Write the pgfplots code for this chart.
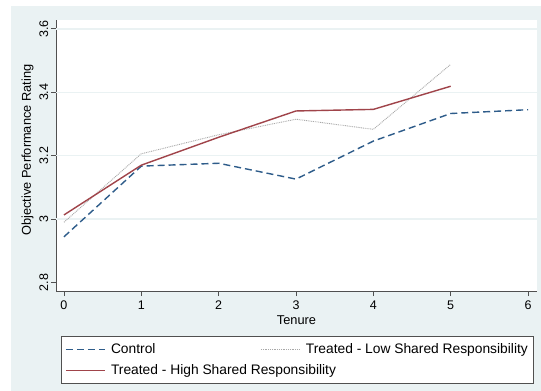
\documentclass[border=0pt]{standalone}
\usepackage{fontspec}
\setmainfont{Liberation Sans}
\usepackage{pgfplots}
\pgfplotsset{compat=1.18}

\definecolor{stbg}{HTML}{EAF2F3}
\definecolor{ctrlblue}{HTML}{2E5C8A}
\definecolor{highred}{HTML}{A0444A}
\definecolor{lowgray}{HTML}{A8A8A8}
\definecolor{axgray}{HTML}{505050}

\begin{document}
\begin{tikzpicture}[x=1pt,y=1pt]
  % page and graph region
  \fill[white] (0,0) rectangle (541,391);
  \fill[stbg] (11,0) rectangle (541,385);
  \begin{axis}[
    at={(56pt,100pt)}, anchor=south west,
    scale only axis, width=481pt, height=271pt,
    xmin=-0.103, xmax=6.116, ymin=2.773, ymax=3.628,
    axis background/.style={fill=white},
    axis x line*=bottom, axis y line*=left,
    axis line style={axgray, line width=0.8pt},
    xtick={0,1,2,3,4,5,6},
    ytick={2.8,3,3.2,3.4,3.6},
    tick align=outside, major tick length=5pt,
    tick style={axgray, line width=0.8pt},
    /pgf/number format/assume math mode=true,
    ticklabel style={font=\fontsize{12.5}{14}\selectfont},
    yticklabel style={rotate=90, anchor=south, inner sep=1pt, yshift=1.5pt},
    xticklabel style={inner sep=2pt, yshift=-3pt},
    extra y ticks={3,3.2,3.4,3.6},
    extra y tick labels={},
    extra y tick style={ymajorgrids=true,
      major grid style={stbg, line width=1.5pt},
      major tick length=0pt},
    xlabel={Tenure},
    ylabel={Objective Performance Rating},
    label style={font=\fontsize{12.8}{14}\selectfont},
    xlabel style={at={(axis description cs:0.5,-0.1089)}, anchor=center},
    ylabel style={at={(axis description cs:-0.0593,0.52)}, anchor=center},
    legend columns=2,
    legend cell align=left,
    legend image code/.code={\draw[#1] (0pt,0pt) -- (39pt,0pt);},
    legend style={
      at={(axis description cs:0.0098,-0.165)}, anchor=north west,
      draw=axgray, line width=0.8pt, fill=white,
      inner xsep=4pt, inner ysep=6pt,
      font=\fontsize{13.8}{16}\selectfont,
      row sep=6.4pt,
      nodes={inner sep=1.5pt},
      /tikz/every odd column/.append style={column sep=4pt},
      /tikz/every even column/.append style={column sep=8pt},
    },
  ]
    \addplot[ctrlblue, line width=1.4pt, dash pattern=on 7pt off 4pt] coordinates {
      (0,2.944) (1,3.167) (2,3.176) (3,3.126) (4,3.246) (5,3.333) (6,3.345)};
    \addlegendentry{Control}
    \addplot[lowgray, line width=0.9pt, dash pattern=on 0.9pt off 0.9pt] coordinates {
      (0,2.990) (1,3.206) (2,3.266) (3,3.315) (4,3.283) (5,3.488)};
    \addlegendentry{Treated - Low Shared Responsibility}
    \addplot[highred, line width=1.4pt] coordinates {
      (0,3.013) (1,3.170) (2,3.258) (3,3.341) (4,3.346) (5,3.419)};
    \addlegendentry{\makebox[140pt][l]{Treated - High Shared Responsibility}}
  \end{axis}
\end{tikzpicture}
\end{document}
